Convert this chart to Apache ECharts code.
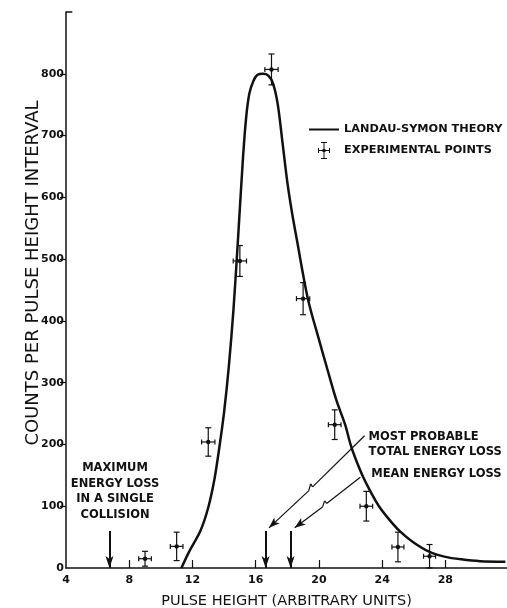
<!DOCTYPE html>
<html><head><meta charset="utf-8">
<script src="https://cdn.jsdelivr.net/npm/echarts@6/dist/echarts.min.js"></script>
<style>html,body{margin:0;padding:0;background:#fff}#c{width:507px;height:608px}</style>
</head><body><div id="c"></div>
<script>
// Landau-Symon theory curve
const theoryX = [11.3, 11.8, 12.5, 13.0, 13.4, 13.7, 14.0, 14.3, 14.6, 14.9, 15.2, 15.4, 15.6, 15.85, 16.1, 16.46, 16.8, 17.1, 17.4, 17.7, 18.0, 18.3, 18.6, 19.3, 20.0, 20.5, 21.1, 21.66, 22.0, 22.3, 22.77, 23.3, 23.8, 24.4, 25.1, 25.9, 27.0, 28.0, 29.0, 30.2, 31.8];
const theoryY = [0, 27, 60, 98, 145, 195, 252, 326, 420, 540, 665, 730, 768, 788, 798, 800, 797, 784, 750, 688, 625, 575, 532, 436, 370, 325, 272, 232, 200, 178, 149, 122, 100, 80, 60, 43, 26, 18, 14, 11, 10];
// Experimental points
const expX = [9, 11, 13, 15, 17, 19, 21, 23, 25, 27];
const expY = [15, 35, 204, 497, 807, 436, 232, 100, 34, 19];
const expErrY = [12, 23, 23, 25, 25, 26, 24, 24, 24, 19];
const expErrX = [0.4, 0.4, 0.42, 0.42, 0.42, 0.42, 0.4, 0.4, 0.38, 0.38];
// Axis tick labels
const xTickLabels = [4, 8, 12, 16, 20, 24, 28];
const xTicks = [8, 12, 16, 20, 24, 28];
const yTickLabels = [0, 100, 200, 300, 400, 500, 600, 700, 800];
const yTicks = [100, 200, 300, 400, 500, 600, 700, 800];
// Annotation arrows (x positions on the pulse-height axis)
const arrowX = [6.75, 16.63, 18.21];
const arrowTopY = 60;
// Leader lines (data coordinates)
const leader1 = [[22.89, 214], [19.60, 131.3], [19.48, 136.1], [19.35, 124.8], [16.84, 65]];
const leader2 = [[22.62, 147], [20.49, 104.5], [20.36, 108.6], [20.23, 98.9], [18.47, 65]];
const labelMax = 'MAXIMUM\nENERGY LOSS\nIN A SINGLE\nCOLLISION';
const labelMostProb = 'MOST PROBABLE\nTOTAL ENERGY LOSS';
const labelMean = 'MEAN ENERGY LOSS';

const INK = '#111';
const FONT = 'DejaVu Sans';

const theoryData = theoryX.map((x, i) => [x, theoryY[i]]);
const expData = expX.map((x, i) => [x, expY[i], expErrY[i], expErrX[i]]);

function segs(pts, lastSym) {
  const out = [];
  for (let i = 0; i < pts.length - 1; i++) {
    const end = { coord: pts[i + 1], symbol: 'none' };
    if (i === pts.length - 2) { end.symbol = lastSym; end.symbolSize = [6, 11]; }
    out.push([{ coord: pts[i], symbol: 'none' }, end]);
  }
  return out;
}

const markLineData = [];
arrowX.forEach(x => {
  markLineData.push([{ coord: [x, arrowTopY], symbol: 'none', lineStyle: { width: 2 } },
    { coord: [x, 0], symbol: 'arrow', symbolSize: [6, 12] }]);
});
segs(leader1, 'arrow').forEach(s => markLineData.push(s));
segs(leader2, 'arrow').forEach(s => markLineData.push(s));
markLineData.push([{ coord: [4, 900], symbol: 'none', lineStyle: { width: 1.5 } }, { coord: [4.4, 900], symbol: 'none' }]);

const errIcon = 'path://M5.5,0H6.5V17H5.5Z M3,0H9V1H3Z M3,16H9V17H3Z M0,8H12V9H0Z M0,6H1V11H0Z M11,6H12V11H11Z M4.5,7H7.5V10H4.5Z';

const chart = echarts.init(document.getElementById('c'), null, { renderer: 'canvas' });
chart.setOption({
  animation: false,
  backgroundColor: '#fff',
  grid: { left: 66, right: 0, top: 12, bottom: 40, containLabel: false, outerBoundsMode: 'none' },
  legend: {
    orient: 'vertical', left: 309, top: 124, padding: 0, itemWidth: 30, itemHeight: 17, itemGap: 7,
    textStyle: { color: INK, fontFamily: FONT, fontWeight: 'bold', fontSize: 11.3 },
    selectedMode: false,
    data: [
      { name: 'LANDAU-SYMON THEORY', icon: 'path://M0,0H30V2H0Z' },
      { name: 'EXPERIMENTAL POINTS', icon: errIcon }
    ]
  },
  xAxis: {
    type: 'value', min: 4, max: 31.9, interval: 4,
    name: 'PULSE HEIGHT (ARBITRARY UNITS)', nameLocation: 'middle', nameGap: 26, nameMoveOverlap: false,
    nameTextStyle: { color: INK, fontFamily: FONT, fontSize: 14.5 },
    axisLine: { show: true, lineStyle: { color: INK, width: 1.5 } },
    axisTick: { show: true, inside: true, length: 8, customValues: xTicks, lineStyle: { color: INK, width: 1.2 } },
    axisLabel: { customValues: xTickLabels, color: INK, fontFamily: FONT, fontWeight: 'bold', fontSize: 11, margin: 7 },
    splitLine: { show: false }
  },
  yAxis: {
    type: 'value', min: 0, max: 900, interval: 100,
    name: 'COUNTS PER PULSE HEIGHT INTERVAL', nameLocation: 'middle', nameGap: 24, nameRotate: 90, nameMoveOverlap: false,
    nameTextStyle: { color: INK, fontFamily: FONT, fontSize: 18, padding: [0, 0, 0, 34] },
    axisLine: { show: true, lineStyle: { color: INK, width: 1.5 } },
    axisTick: { show: true, inside: false, length: 6, customValues: yTicks, lineStyle: { color: INK, width: 1.2 } },
    axisLabel: { customValues: yTickLabels, color: INK, fontFamily: FONT, fontWeight: 'bold', fontSize: 11, margin: 2 },
    splitLine: { show: false }
  },
  series: [
    {
      name: 'LANDAU-SYMON THEORY', type: 'line', data: theoryData, smooth: 0.3,
      showSymbol: false, symbol: 'none', color: INK,
      lineStyle: { color: INK, width: 2.5 },
      z: 3,
      markLine: {
        silent: true, symbol: ['none', 'none'], precision: 4,
        lineStyle: { color: INK, width: 1.2, type: 'solid' },
        label: { show: false },
        emphasis: { disabled: true },
        data: markLineData
      },
      markPoint: {
        silent: true, symbol: 'circle', symbolSize: 0,
        itemStyle: { color: 'rgba(0,0,0,0)' },
        label: { show: true, position: 'inside', color: INK, fontFamily: FONT, fontWeight: 'bold', fontSize: 11.5, lineHeight: 15.7, verticalAlign: 'middle' },
        data: [
          { coord: [7.1, 124], value: 0, label: { formatter: labelMax, align: 'center' } },
          { coord: [23.14, 200], value: 0, label: { formatter: labelMostProb, align: 'left' } },
          { coord: [23.31, 152], value: 0, label: { formatter: labelMean, align: 'left' } }
        ]
      }
    },
    {
      name: 'EXPERIMENTAL POINTS', type: 'custom', data: expData, color: INK, z: 4,
      encode: { x: 0, y: 1 },
      renderItem: function (params, api) {
        const x = api.value(0), y = api.value(1), ey = api.value(2), ex = api.value(3);
        const c = api.coord([x, y]);
        const t = api.coord([x, y + ey]);
        const b = api.coord([x, y - ey]);
        const l = api.coord([x - ex, y]);
        const r = api.coord([x + ex, y]);
        const cw = 3, ch = 2.5;
        const st = { stroke: INK, lineWidth: 1.2, fill: null };
        const ln = (x1, y1, x2, y2) => ({ type: 'line', shape: { x1, y1, x2, y2 }, style: st });
        return {
          type: 'group', children: [
            ln(t[0], t[1], b[0], b[1]),
            ln(t[0] - cw, t[1], t[0] + cw, t[1]),
            ln(b[0] - cw, b[1], b[0] + cw, b[1]),
            ln(l[0], l[1], r[0], r[1]),
            ln(l[0], l[1] - ch, l[0], l[1] + ch),
            ln(r[0], r[1] - ch, r[0], r[1] + ch),
            { type: 'circle', shape: { cx: c[0], cy: c[1], r: 2.2 }, style: { fill: INK } }
          ]
        };
      }
    }
  ]
});
</script>
</body></html>
